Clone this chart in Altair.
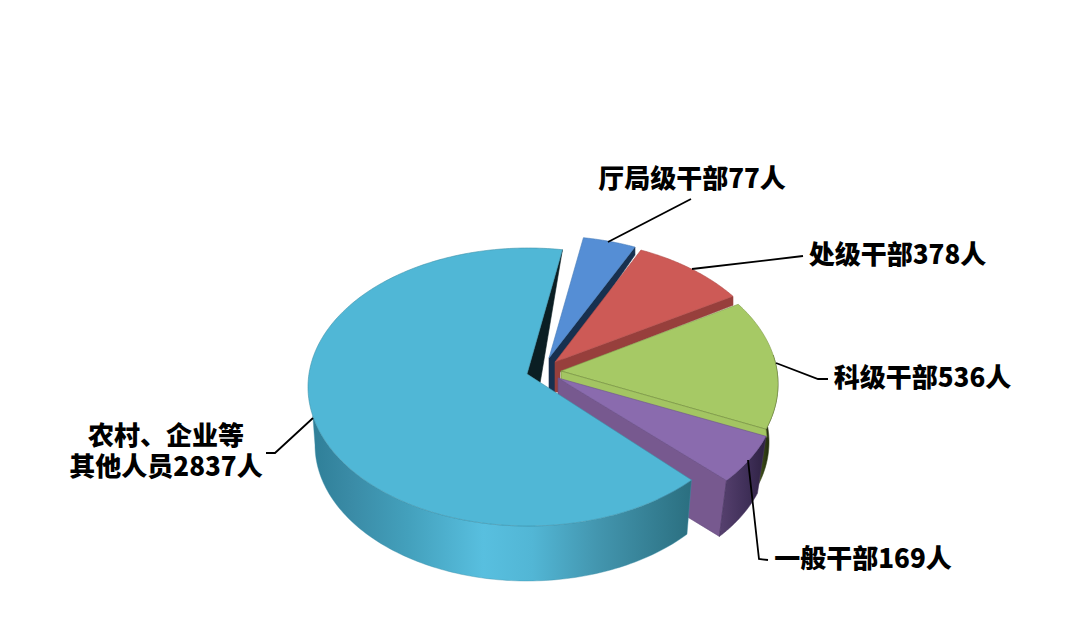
import math
import altair as alt
import pandas as pd

labels = ["厅局级干部77人", "处级干部378人", "科级干部536人", "一般干部169人", "农村、企业等\n其他人员2837人"]
slice_names = ["厅局级", "处级", "科级", "一般", "农村、企业等"]
# Sweep of each slice as it appears on the picture (degrees of the ellipse)
slice_sweep = [14, 31, 54, 21, 237]
slice_gap = [0, 0, 1, 0, 2]
first_angle = 9
top_colors = ["#558ed5", "#cd5a56", "#a6c965", "#8a6bae", "#50b7d6"]
wall_colors = ["#17304f", "#973f3c", "#a3c562", "#77598f", "#0b1e23"]

W, H = 1064, 616
X_DOM, Y_DOM = [8, 1072], [624, 8]
TOP_RX, TOP_RY = 220, 139
BOT_RX, BOT_RY = 212, 136
BASE = (528, 387)
EXPLODE = [(21, -12), (27, -9), (30, -3), (30, 4), (0, 0)]
APEX = [(0, -17), (0, -16), (3, -13), (0, -13), (-1, -13)]
DEPTH = (-1, 58)

bounds = []
a = first_angle
for s, g in zip(slice_sweep, slice_gap):
    a += g
    bounds.append((a, a + s))
    a += s


def pt(c, t, rx=TOP_RX, ry=TOP_RY):
    r = math.radians(t)
    return (c[0] + rx * math.sin(r), c[1] - ry * math.cos(r))


def arc(c, t0, t1, rx=TOP_RX, ry=TOP_RY, n=70):
    return [pt(c, t0 + (t1 - t0) * i / n, rx, ry) for i in range(n + 1)]


centers = [(BASE[0] + e[0], BASE[1] + e[1]) for e in EXPLODE]
bottoms = [(c[0] + DEPTH[0], c[1] + DEPTH[1]) for c in centers]
apexes = [(c[0] + o[0], c[1] + o[1]) for c, o in zip(centers, APEX)]

x_scale = alt.Scale(domain=X_DOM, nice=False, zero=False)
y_scale = alt.Scale(domain=Y_DOM, nice=False, zero=False)
X = alt.X("x:Q", scale=x_scale, axis=None)
Y = alt.Y("y:Q", scale=y_scale, axis=None)


def poly(points, fill, stroke=None, sw=0.6):
    pts = list(points) + [points[0]]
    df = pd.DataFrame({"x": [p[0] for p in pts], "y": [p[1] for p in pts], "i": range(len(pts))})
    return alt.Chart(df).mark_line(fill=fill, stroke=stroke or fill, strokeWidth=sw, interpolate="linear", clip=False).encode(
        x=X, y=Y, order=alt.Order("i:Q"))


def grad(stops):
    return alt.Gradient(gradient="linear", x1=0, y1=0, x2=1, y2=0,
                        stops=[alt.GradientStop(offset=o, color=c) for o, c in stops])


def line(points, sw=1.8):
    df = pd.DataFrame({"x": [p[0] for p in points], "y": [p[1] for p in points], "i": range(len(points))})
    return alt.Chart(df).mark_line(stroke="#000000", strokeWidth=sw).encode(x=X, y=Y, order=alt.Order("i:Q"))


layers = []

# 厅局级: wall, then top
i = 0
o = pt(centers[i], bounds[i][1])
layers.append(poly([apexes[i], o, (o[0], o[1] + 8), (apexes[i][0] + 6, apexes[i][1] + 12),
                    (apexes[i][0] + 6, apexes[i][1] + 40), (apexes[i][0], apexes[i][1] + 40)],
                   wall_colors[i]))
layers.append(poly([apexes[i]] + arc(centers[i], *bounds[i]), top_colors[i], "#4a7db8"))

# 处级
i = 1
o = pt(centers[i], bounds[i][1])
layers.append(poly([apexes[i], o, (o[0], o[1] + 9), (apexes[i][0] + 5, apexes[i][1] + 10),
                    (apexes[i][0] + 5, apexes[i][1] + 30), (apexes[i][0], apexes[i][1] + 30)], wall_colors[i]))
layers.append(poly([apexes[i]] + arc(centers[i], *bounds[i]), top_colors[i], "#b04c48"))

# 科级: rim, top, cut band
i = 2
layers.append(poly(arc(centers[i], 78, bounds[i][1]) + arc(bottoms[i], bounds[i][1], 78, BOT_RX, BOT_RY),
                   grad([(0, "#5a6e2a"), (0.2, "#3c4c18"), (0.5, "#263010"), (1, "#2a3512")]), "#34421a"))
layers.append(poly([apexes[i]] + arc(centers[i], *bounds[i]), top_colors[i], "#7f9a4a"))
o = pt(centers[i], bounds[i][1])
layers.append(poly([apexes[i], o, (o[0] + 1, o[1] + 8), (apexes[i][0], apexes[i][1] + 10)], wall_colors[i], "#6f8a3a"))

# 一般: cut wall, rim, top
i = 3
o = pt(centers[i], bounds[i][1])
ob = pt(bottoms[i], bounds[i][1], BOT_RX, BOT_RY)
layers.append(poly([apexes[i], o, ob, (apexes[i][0], apexes[i][1] + 60)], wall_colors[i], "#664b80"))
layers.append(poly(arc(centers[i], *bounds[i]) + arc(bottoms[i], bounds[i][1], bounds[i][0], BOT_RX, BOT_RY),
                   grad([(0, "#57416f"), (0.6, "#3f2f58"), (1, "#2e2142")]), "#46345f"))
layers.append(poly([apexes[i]] + arc(centers[i], *bounds[i]), top_colors[i], "#6d5390"))

# 农村、企业等: dark cut, side, top
i = 4
o = pt(centers[i], bounds[i][1])
e = pt(centers[i], bounds[i][0])
low = (apexes[i][0] + 0.08 * (e[0] - apexes[i][0]), apexes[i][1] + 0.08 * (e[1] - apexes[i][1]))
layers.append(poly([apexes[i], o, low], wall_colors[i]))
side = arc(centers[i], bounds[i][0], 258, n=120) + arc(bottoms[i], 270, bounds[i][0] - 1, BOT_RX, BOT_RY, n=120)
layers.append(poly(side, grad([(0, "#2f7f98"), (0.1, "#3a8ba6"), (0.25, "#43a0bc"), (0.45, "#58bfdf"),
                               (0.58, "#52b6d5"), (0.75, "#4396af"), (1, "#2b6f80")]), "#3f8fa8", 0.4))
layers.append(poly([apexes[i]] + arc(centers[i], *bounds[i], n=240), top_colors[i], "#3f93ab"))

# Leader lines
layers.append(line([(608, 242), (691, 199)]))
layers.append(line([(692, 269), (803, 256)]))
layers.append(line([(776, 363), (818, 379), (828, 379)]))
layers.append(line([(748, 460), (759, 559), (768, 560)]))
layers.append(line([(313, 418), (275, 453), (266, 453)]))

txt = pd.DataFrame({
    "x": [692, 897.5, 922.5, 863, 166],
    "y": [180, 256, 379, 560, 437],
    "t": labels,
})
layers.append(alt.Chart(txt).mark_text(font="Noto Sans CJK SC", fontWeight=900, fontSize=26, color="#000000",
                                       align="center", baseline="middle", lineBreak="\n", lineHeight=31).encode(
    x=X, y=Y, text="t:N"))

chart = alt.layer(*layers).properties(width=W, height=H, padding=0, background="#ffffff",
                                      autosize=alt.AutoSizeParams(type="none")).configure_view(stroke=None)
chart.save("out.html", embed_options={"renderer": "svg", "actions": False})
